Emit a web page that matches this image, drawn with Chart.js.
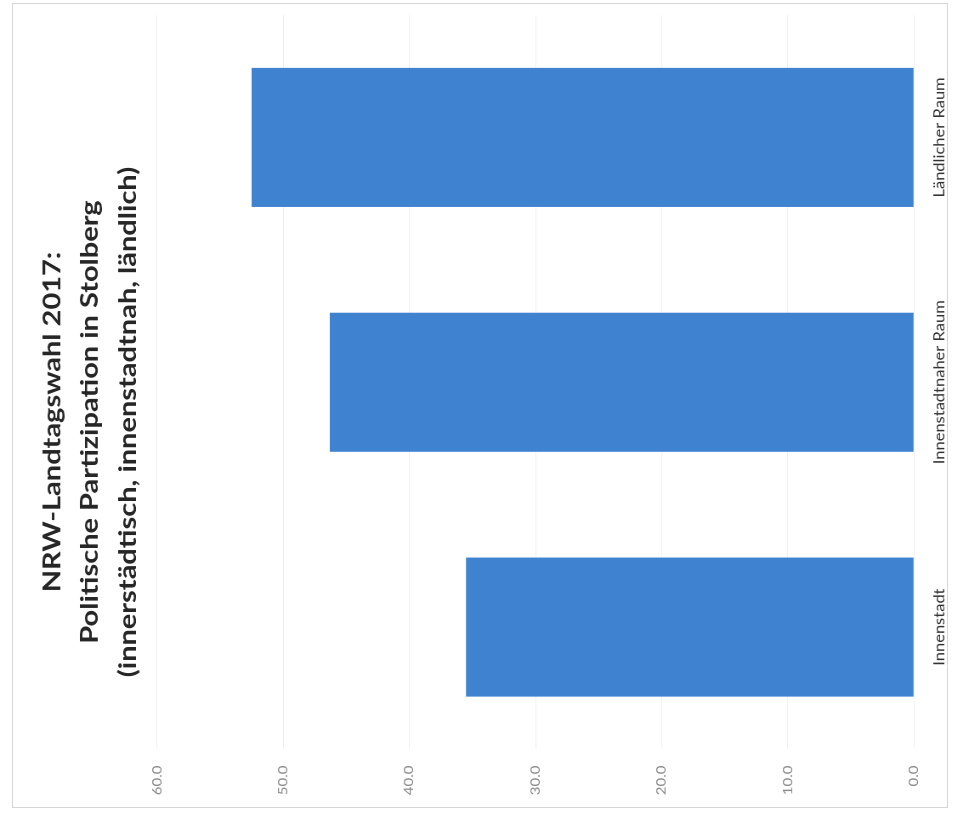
<!DOCTYPE html>
<html>
<head>
<meta charset="utf-8">
<script src="https://cdn.jsdelivr.net/npm/chart.js@4"></script>
<style>
  html, body { margin: 0; padding: 0; background: #fff; width: 955px; height: 817px; overflow: hidden; }
  #frame { position: absolute; left: 12px; top: 3px; width: 936px; height: 805px; border: 1px solid #d6d6d6; box-sizing: border-box; }
  /* the column chart is laid out upright, squeezed slightly across its height
     and then turned a quarter turn to the left */
  #turn { position: absolute; left: 0; top: 817px; width: 817px; height: 1124px; transform-origin: 0 0; transform: rotate(-90deg) scale(1, 0.85); }
  #c { display: block; width: 817px; height: 1124px; }
</style>
</head>
<body>
<div id="frame"></div>
<div id="turn"><canvas id="c" width="817" height="1124"></canvas></div>
<script>
// Wahlbeteiligung NRW-Landtagswahl 2017 in Stolberg, nach Raumtyp (in %)
const categories = ['Innenstadt', 'Innenstadtnaher Raum', 'Ländlicher Raum'];
const participation = [35.5, 46.3, 52.5];
const valueTicks = [0, 10, 20, 30, 40, 50, 60];
const titleLines = [
  'NRW-Landtagswahl 2017:',
  'Politische Partizipation in Stolberg',
  '(innerstädtisch, innenstadtnah, ländlich)'
];

const titlePlugin = {
  id: 'blockTitle',
  afterDraw(chart) {
    const ctx = chart.ctx;
    const baselines = [70.6, 115.3, 160];
    ctx.save();
    ctx.font = 'bold 29px Lato';
    ctx.fillStyle = '#262626';
    ctx.textAlign = 'center';
    ctx.textBaseline = 'alphabetic';
    titleLines.forEach((line, i) => ctx.fillText(line, 395, baselines[i]));
    ctx.restore();
  }
};

new Chart(document.getElementById('c'), {
  type: 'bar',
  data: {
    labels: categories,
    datasets: [{
      data: participation,
      backgroundColor: '#3f82cf',
      borderWidth: 0,
      categoryPercentage: 1,
      barPercentage: 0.568
    }]
  },
  options: {
    responsive: false,
    animation: false,
    devicePixelRatio: 1,
    layout: { padding: { left: 0, right: 15, top: 184.7, bottom: 0 } },
    plugins: { legend: { display: false }, title: { display: false }, tooltip: { enabled: false } },
    scales: {
      x: {
        grid: { display: false, drawTicks: false },
        border: { display: false },
        ticks: { padding: 20, color: '#333333', font: { family: 'Lato', size: 16.5 }, maxRotation: 0 },
        afterFit(scale) { scale.height = 48.7; }
      },
      y: {
        min: 0,
        max: 60,
        afterBuildTicks(scale) { scale.ticks = valueTicks.map(v => ({ value: v })); },
        grid: { color: '#efefef', lineWidth: 1, drawTicks: false },
        border: { display: false },
        ticks: {
          padding: 16,
          color: '#8a8a8a',
          font: { family: 'Lato', size: 15 },
          callback: v => Number(v).toFixed(1)
        },
        afterFit(scale) { scale.width = 67.5; }
      }
    }
  },
  plugins: [titlePlugin]
});
</script>
</body>
</html>
